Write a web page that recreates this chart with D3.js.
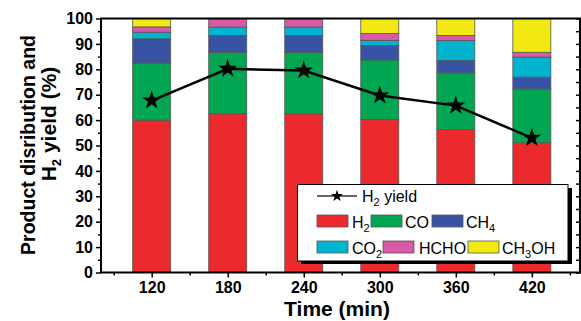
<!DOCTYPE html>
<html>
<head>
<meta charset="utf-8">
<script src="https://cdn.jsdelivr.net/npm/d3@7"></script>
<style>
  body { margin: 0; background: #fff; }
  svg { display: block; font-family: "Liberation Sans", Arial, sans-serif; }
</style>
</head>
<body>
<div id="chart"></div>
<script>
// values (%)
const times = [120, 180, 240, 300, 360, 420];
const h2 = [60.0, 62.5, 62.5, 60.2, 56.3, 51.1];
const co = [22.5, 24.2, 24.2, 23.5, 22.3, 21.2];
const ch4 = [9.5, 6.6, 6.6, 5.7, 4.9, 4.6];
const co2 = [2.6, 3.3, 3.3, 1.9, 7.8, 7.9];
const hcho = [2.1, 3.4, 3.4, 2.8, 2.0, 1.9];
const ch3oh = [3.3, 0.0, 0.0, 5.9, 6.7, 13.3];
const h2Yield = [67.7, 80.2, 79.5, 69.7, 65.7, 53.0];

const seriesNames = ['H2', 'CO', 'CH4', 'CO2', 'HCHO', 'CH3OH'];
const seriesColors = ['#ec2a2e', '#00a651', '#3953a4', '#00b4cf', '#d859a6', '#f2e912'];
const xTicks = [120, 180, 240, 300, 360, 420];
const yTicks = [0, 10, 20, 30, 40, 50, 60, 70, 80, 90, 100];

const W = 581, H = 321;
const m = { left: 101, right: 580, top: 18.5, bottom: 272.5 };

const svg = d3.select('#chart').append('svg')
  .attr('width', W)
  .attr('height', H);

const x = d3.scaleLinear().domain([80, 458]).range([m.left, m.right]);
const y = d3.scaleLinear().domain([0, 100]).range([m.bottom, m.top]);

// stack the six products
const rows = times.map((t, i) => ({
  t, H2: h2[i], CO: co[i], CH4: ch4[i], CO2: co2[i], HCHO: hcho[i], CH3OH: ch3oh[i]
}));
const stacked = d3.stack().keys(seriesNames)(rows);
const barHalf = 15; // minutes

svg.append('g')
  .selectAll('g')
  .data(stacked)
  .join('g')
  .attr('fill', (d, i) => seriesColors[i])
  .selectAll('rect')
  .data(d => d.filter(s => s[1] - s[0] > 0))
  .join('rect')
  .attr('x', d => x(d.data.t - barHalf))
  .attr('width', d => x(d.data.t + barHalf) - x(d.data.t - barHalf))
  .attr('y', d => y(d[1]))
  .attr('height', d => y(d[0]) - y(d[1]))
  .attr('stroke', '#555')
  .attr('stroke-width', 0.8);

// H2 yield line
const star = d3.symbol().type(d3.symbolStar).size(110);
svg.append('path')
  .datum(times.map((t, i) => [t, h2Yield[i]]))
  .attr('fill', 'none')
  .attr('stroke', '#000')
  .attr('stroke-width', 2.5)
  .attr('d', d3.line().x(d => x(d[0])).y(d => y(d[1])));

svg.append('g')
  .selectAll('path')
  .data(times.map((t, i) => [t, h2Yield[i]]))
  .join('path')
  .attr('transform', d => `translate(${x(d[0])},${y(d[1])})`)
  .attr('d', star)
  .attr('fill', '#000');

// y axis (left, ticks outward)
const yAxis = svg.append('g')
  .attr('transform', `translate(${m.left},0)`)
  .call(d3.axisLeft(y).tickValues(yTicks).tickSize(5).tickPadding(3));
yAxis.append('g')
  .call(d3.axisLeft(y).tickValues(d3.range(5, 100, 10)).tickSize(3).tickFormat(''));

// right side ticks (inward)
svg.append('g')
  .attr('transform', `translate(${m.right},0)`)
  .call(d3.axisRight(y).tickValues(d3.range(0, 101, 5)).tickSize(-4).tickFormat(''));

// x axis (bottom, ticks outward)
const xAxis = svg.append('g')
  .attr('transform', `translate(0,${m.bottom})`)
  .call(d3.axisBottom(x).tickValues(xTicks).tickSize(5).tickPadding(4));
xAxis.append('g')
  .call(d3.axisBottom(x).tickValues(d3.range(90, 451, 60)).tickSize(3).tickFormat(''));

svg.selectAll('.domain').remove();
svg.selectAll('.tick line').attr('stroke', '#000').attr('stroke-width', 1.5);
svg.selectAll('.tick text')
  .attr('fill', '#000')
  .style('font-size', '16px')
  .style('font-weight', 'bold')
  .style('font-family', '"Liberation Sans", Arial, sans-serif');

// frame
svg.append('rect')
  .attr('x', m.left).attr('y', m.top)
  .attr('width', m.right - m.left).attr('height', m.bottom - m.top)
  .attr('fill', 'none')
  .attr('stroke', '#000')
  .attr('stroke-width', 2);

// axis titles
svg.append('text')
  .attr('x', 337).attr('y', 316)
  .attr('text-anchor', 'middle')
  .style('font-size', '21px').style('font-weight', 'bold')
  .text('Time (min)');

svg.append('text')
  .attr('transform', 'translate(35,145) rotate(-90)')
  .attr('text-anchor', 'middle')
  .style('font-size', '19.5px').style('font-weight', 'bold')
  .text('Product disribution and');

const t2 = svg.append('text')
  .attr('transform', 'translate(56,124) rotate(-90)')
  .attr('text-anchor', 'middle')
  .style('font-size', '21px').style('font-weight', 'bold');
t2.append('tspan').text('H');
t2.append('tspan').attr('dy', 5).style('font-size', '13px').text('2');
t2.append('tspan').attr('dy', -5).text(' yield (%)');

// legend
const lg = svg.append('g');
lg.append('rect').attr('x', 301).attr('y', 188).attr('width', 271).attr('height', 76).attr('fill', '#000');
lg.append('rect').attr('x', 297.5).attr('y', 184.5).attr('width', 270.5).attr('height', 76.5)
  .attr('fill', '#fff').attr('stroke', '#000').attr('stroke-width', 1);

lg.append('line').attr('x1', 317).attr('x2', 357).attr('y1', 196).attr('y2', 196)
  .attr('stroke', '#333').attr('stroke-width', 1.5);
lg.append('path').attr('transform', 'translate(337,196)')
  .attr('d', d3.symbol().type(d3.symbolStar).size(45)).attr('fill', '#000');
const lt = lg.append('text').attr('x', 362).attr('y', 202).style('font-size', '16px');
lt.append('tspan').text('H');
lt.append('tspan').attr('dy', 4).style('font-size', '11px').text('2');
lt.append('tspan').attr('dy', -4).text(' yield');

const legendPos = [
  [317, 215, 352], [371, 215, 405], [432, 215, 466],
  [317, 241, 352], [383, 241, 419], [468, 241, 502]
];
const legendLabels = [
  ['H', '2', ''], ['CO', '', ''], ['CH', '4', ''],
  ['CO', '2', ''], ['HCHO', '', ''], ['CH', '3', 'OH']
];
seriesNames.forEach((name, i) => {
  const [sx, sy, tx] = legendPos[i];
  lg.append('rect').attr('x', sx).attr('y', sy).attr('width', 31).attr('height', 12)
    .attr('fill', seriesColors[i]).attr('stroke', '#555').attr('stroke-width', 0.8);
  const tt = lg.append('text').attr('x', tx).attr('y', sy + 13).style('font-size', '16px');
  const [a, sub, b] = legendLabels[i];
  tt.append('tspan').text(a);
  if (sub) tt.append('tspan').attr('dy', 4).style('font-size', '11px').text(sub);
  if (b) tt.append('tspan').attr('dy', -4).text(b);
});
</script>
</body>
</html>
